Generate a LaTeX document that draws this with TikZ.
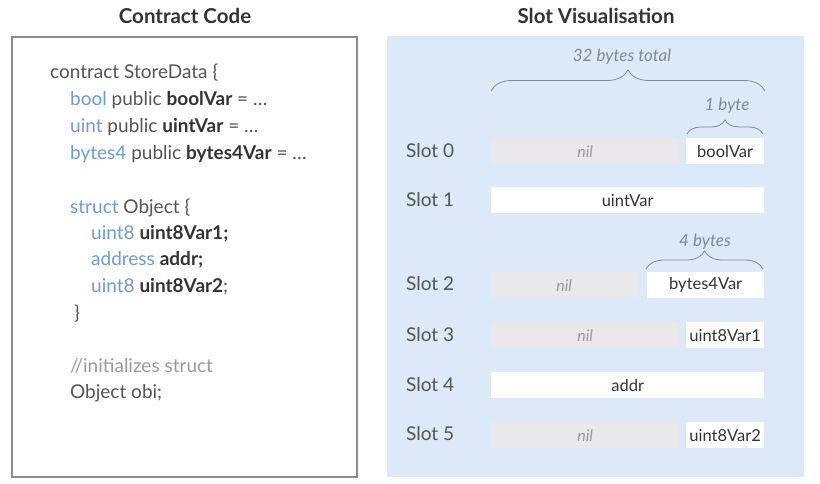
\documentclass[tikz,border=0pt]{standalone}
\usepackage{fontspec}
\setmainfont{Lato}
\usetikzlibrary{decorations.pathreplacing}
\definecolor{panelblue}{HTML}{DCE9F9}
\definecolor{nilgray}{HTML}{EBE8EC}
\definecolor{typeblue}{HTML}{6F9BD6}
\definecolor{codegray}{HTML}{555555}
\definecolor{darktxt}{HTML}{333333}
\definecolor{commentgray}{HTML}{9A9A9A}
\definecolor{bracegray}{HTML}{7D8A99}
\definecolor{boxgray}{HTML}{8C8C8C}
\newcommand{\ty}[1]{\textcolor{typeblue}{#1}}
\newcommand{\vr}[1]{\textcolor{darktxt}{\bfseries #1}}
\tikzset{
  title/.style={inner sep=0pt, text=darktxt, font=\bfseries\fontsize{20.5}{24}\selectfont},
  codeline/.style={anchor=mid west, yshift=-3pt, inner sep=0pt, text=codegray, font=\fontsize{19}{22}\selectfont},
  slotlbl/.style={anchor=mid west, yshift=-3pt, inner sep=0pt, text=codegray, font=\fontsize{19}{22}\selectfont},
  bar/.style={anchor=north west, inner sep=0pt, minimum height=26pt},
  nilbar/.style={bar, fill=nilgray, text=commentgray, font=\itshape\fontsize{16}{19}\selectfont},
  varbar/.style={bar, fill=white, text=darktxt, font=\fontsize{16.5}{19}\selectfont},
  bracelbl/.style={inner sep=0pt, text=bracegray, font=\itshape\fontsize{17}{20}\selectfont},
  curly/.style={decorate, decoration={brace, amplitude=#1, aspect=0.5}, draw=bracegray, line width=0.8pt}
}
\begin{document}
\begin{tikzpicture}[x=1pt,y=-1pt]
		\useasboundingbox (0,0) rectangle (820,483);
		% left: the contract
		\node[title] (codetitle) at (185,16) {Contract Code};
		\draw[boxgray, line width=1.2pt, fill=white] (12,37) rectangle (357,477);
		\node[codeline] (c1) at (50,73) {contract StoreData \{};
		\node[codeline] (c2) at (70,100) {\ty{bool} public \vr{boolVar} = \ldots};
		\node[codeline] (c3) at (70,127) {\ty{uint} public \vr{uintVar} = \ldots};
		\node[codeline] (c4) at (70,154) {\ty{bytes4} public \vr{bytes4Var} = \ldots};
		\node[codeline] (c5) at (70,208) {\ty{struct} Object \{};
		\node[codeline] (c6) at (91,234) {\ty{uint8} \vr{uint8Var1;}};
		\node[codeline] (c7) at (91,260) {\ty{address} \vr{addr;}};
		\node[codeline] (c8) at (91,287) {\ty{uint8} \vr{uint8Var2};};
		\node[codeline] (c9) at (74,314) {\}};
		\node[codeline] (c10) at (70,367) {\textcolor{commentgray}{//initializes struct}};
		\node[codeline] (c11) at (70,393) {Object obi;};
		% right: the slots
		\node[title] (slottitle) at (596,16) {Slot Visualisation};
		\fill[panelblue] (387,36) rectangle (804,477);
		\foreach \i/\y in {0/152,1/201,2/285,3/336,4/386,5/435}{
		\node[slotlbl] (slot\i) at (406,\y) {Slot \i};
		}
		\node[nilbar, minimum width=188pt] (nil0) at (491,138) {nil};
		\node[varbar, minimum width=78pt] (var0) at (686,138) {boolVar};
		\node[varbar, minimum width=273pt] (var1) at (491,187) {uintVar};
		\node[nilbar, minimum width=146pt] (nil2) at (491,272) {nil};
		\node[varbar, minimum width=117pt] (var2) at (647,272) {bytes4Var};
		\node[nilbar, minimum width=188pt] (nil3) at (491,322) {nil};
		\node[varbar, minimum width=78pt] (var3) at (686,322) {uint8Var1};
		\node[varbar, minimum width=273pt] (var4) at (491,372) {addr};
		\node[nilbar, minimum width=188pt] (nil5) at (491,422) {nil};
		\node[varbar, minimum width=78pt] (var5) at (686,422) {uint8Var2};
		% braces
		\coordinate (totl) at (491,91);
		\coordinate (totr) at (765,91);
		\coordinate (onel) at (687,134);
		\coordinate (oner) at (763,134);
		\coordinate (fourl) at (646,269);
		\coordinate (fourr) at (763,269);
		\draw[curly=21pt] (totl) -- (totr);
		\draw[curly=14pt] (onel) -- (oner);
		\draw[curly=18pt] (fourl) -- (fourr);
		\node[bracelbl] (totlbl) at (622,57) {32 bytes total};
		\node[bracelbl] (onelbl) at (727,106) {1 byte};
		\node[bracelbl] (fourlbl) at (705,242) {4 bytes};
\end{tikzpicture}
\end{document}
